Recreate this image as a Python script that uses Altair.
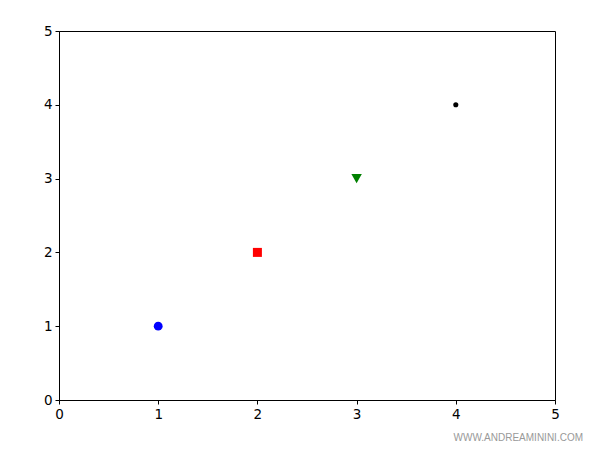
import altair as alt
import pandas as pd

xs = [1, 2, 3, 4]
ys = [1, 2, 3, 4]
names = ["a", "b", "c", "d"]
ticks = [0, 1, 2, 3, 4, 5]

df = pd.DataFrame({"x": xs, "y": ys, "name": names})

axis_kw = dict(values=ticks, format="d", title=None, grid=False,
               tickSize=4, tickColor="black", domainColor="black",
               labelColor="black", labelFontSize=13.5, labelFont="DejaVu Sans",
               labelPadding=3, labelFlush=False)

X = alt.X("x:Q", scale=alt.Scale(domain=[0, 5], nice=False, zero=False), axis=alt.Axis(**axis_kw))
Y = alt.Y("y:Q", scale=alt.Scale(domain=[0, 5], nice=False, zero=False), axis=alt.Axis(**axis_kw))

styles = [
    ("a", "circle", "#0000ff", 78),
    ("b", "square", "#ff0000", 81),
    ("c", "triangle-down", "#008000", 110),
    ("d", "circle", "#000000", 26),
]

layers = []
for name, shape, color, size in styles:
    layers.append(
        alt.Chart(df).transform_filter(alt.datum.name == name)
        .mark_point(filled=True, opacity=1, strokeWidth=0, shape=shape, color=color, size=size)
        .encode(x=X, y=Y)
    )

wm = alt.Chart(pd.DataFrame({"t": ["WWW.ANDREAMININI.COM"]})).mark_text(
    align="right", baseline="middle", fontSize=10, color="#999999", font="Liberation Sans"
).encode(text="t:N", x=alt.value(524), y=alt.value(407))

chart = alt.layer(*layers, wm).properties(
    width=496, height=369,
    autosize=alt.AutoSizeParams(type="none"),
    padding={"left": 51, "top": 23, "right": 37, "bottom": 42},
).configure_view(stroke="black", strokeWidth=1)

chart.save("out.html", embed_options={"renderer": "svg", "actions": False})
